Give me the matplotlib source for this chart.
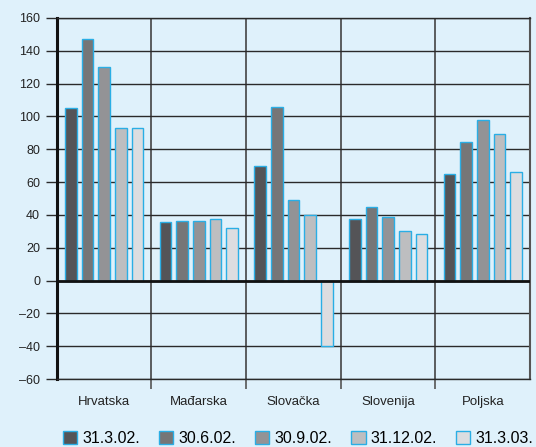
import matplotlib.pyplot as plt
import numpy as np

plt.rcParams['font.family'] = ['Liberation Sans', 'DejaVu Sans']

countries = ['Hrvatska', 'Mađarska', 'Slovačka', 'Slovenija', 'Poljska']
dates = ['31.3.02.', '30.6.02.', '30.9.02.', '31.12.02.', '31.3.03.']
v_mar02 = [105, 35.5, 70, 37.5, 65]
v_jun02 = [147, 36.5, 106, 44.5, 84.5]
v_sep02 = [130, 36, 49, 39, 98]
v_dec02 = [93, 37.5, 40, 30, 89]
v_mar03 = [93, 32, -40, 28.5, 66]
series = [v_mar02, v_jun02, v_sep02, v_dec02, v_mar03]
colors = ['#545457', '#767677', '#939396', '#bdbec0', '#dcdde0']
bg = '#dff1fb'
edge = '#2aaee5'

fig = plt.figure(figsize=(5.36, 4.47), dpi=100, facecolor=bg)
ax = fig.add_axes([0.106, 0.152, 0.883, 0.808], facecolor=bg)

x = np.arange(len(countries))
step, width = 0.176, 0.124
for i, vals in enumerate(series):
    ax.bar(x + (i - 2) * step, vals, width, color=colors[i], edgecolor=edge,
           linewidth=1.0, label=dates[i], zorder=3)

ax.set_xlim(-0.5, 4.5)
ax.set_ylim(-60, 160)
ax.set_yticks(range(-60, 161, 20))
ax.set_yticklabels([str(t).replace('-', '\u2013') for t in range(-60, 161, 20)],
                   fontsize=9, color='#222222')
ax.yaxis.grid(True, color='#2a2a2a', linewidth=1.0, zorder=1)
ax.tick_params(axis='y', length=8, width=1.0, color='#2a2a2a', pad=4)

ax.set_xticks(x)
ax.set_xticklabels(countries, fontsize=9.5, color='#222222')
ax.tick_params(axis='x', which='major', length=0, pad=12)
ax.set_xticks(np.arange(0.5, 4.5, 1), minor=True)
ax.tick_params(axis='x', which='minor', length=7, width=1.2, color='#555555')
ax.xaxis.grid(True, which='minor', color='#444444', linewidth=1.2, zorder=1)

ax.axhline(0, color='#111111', linewidth=2.0, zorder=4)
for s in ['top', 'bottom']:
    ax.spines[s].set_color('#2a2a2a')
    ax.spines[s].set_linewidth(1.0)
ax.spines['left'].set_color('#111111')
ax.spines['left'].set_linewidth(2.2)
ax.spines['right'].set_color('#555555')
ax.spines['right'].set_linewidth(1.5)

fig.legend(loc='lower center', ncol=5, frameon=False, fontsize=11.5,
           bbox_to_anchor=(0.556, -0.03), handlelength=0.9, handleheight=0.9,
           handletextpad=0.3, columnspacing=1.2)

fig.savefig('out.png', dpi=100, facecolor=bg)
